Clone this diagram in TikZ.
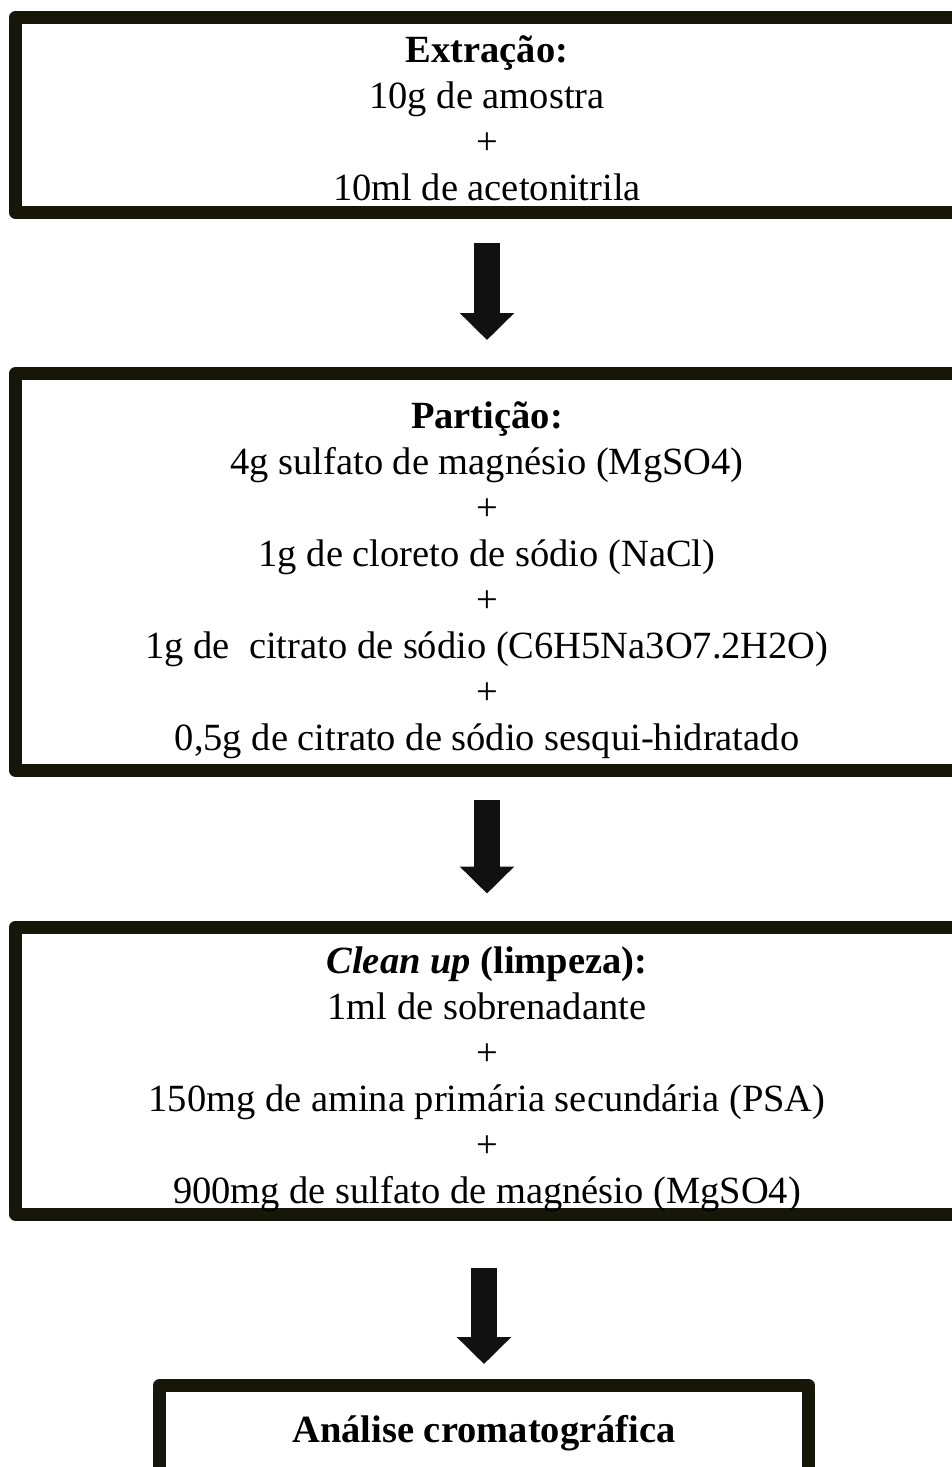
\documentclass[tikz,border=0pt]{standalone}
\usepackage{fontspec}
\setmainfont{Liberation Serif}
\usetikzlibrary{arrows.meta,positioning}

\begin{document}
\begin{tikzpicture}[x=1pt,y=-1pt]
\definecolor{boxline}{RGB}{22,23,8}
\definecolor{arrowfill}{RGB}{17,17,17}
\tikzstyle{stage} = [draw=boxline, line width=13pt, line join=round, inner sep=0pt];
\tikzstyle{txt} = [align=center, inner sep=0pt, anchor=base, font=\fontsize{38.5}{46}\selectfont];
\tikzstyle{flow} = [draw=arrowfill, line width=26pt, -{Triangle[length=27pt,width=53pt]}];
\useasboundingbox (0,0) rectangle (951,1467);
% boxes
\node[stage, minimum width=943pt, minimum height=195pt] (E) at (487,115) {};
\node[stage, minimum width=943pt, minimum height=397pt] (P) at (487,572) {};
\node[stage, minimum width=943pt, minimum height=287pt] (C) at (487,1070.5) {};
\node[stage, minimum width=649pt, minimum height=94.5pt,
  font=\fontsize{38.5}{46}\selectfont\bfseries] (A) at (484,1432.75) {Análise cromatográfica};
% texts (base = last line)
\node[txt] (tE) at (487,200)
  {\textbf{Extração:}\\10g de amostra\\+\\10ml de acetonitrila};
\node[txt] (tP) at (487,750)
  {\textbf{Partição:}\\4g sulfato de magnésio (MgSO4)\\+\\1g de cloreto de sódio (NaCl)\\+\\
   1g de~ citrato de sódio (C6H5Na3O7.2H2O)\\+\\0,5g de citrato de sódio sesqui-hidratado};
\node[txt] (tC) at (487,1203)
  {\textbf{\textit{Clean up} (limpeza):}\\1ml de sobrenadante\\+\\150mg de amina primária secundária (PSA)\\+\\
   900mg de sulfato de magnésio (MgSO4)};
% arrows
\draw[flow, shorten <=24pt, shorten >=27pt] (E) -- (P);
\draw[flow, shorten <=23pt, shorten >=27pt] (P) -- (C);
\draw[flow, shorten <=47pt, shorten >=15pt] (C.south -| A.north) -- (A.north);
\end{tikzpicture}
\end{document}
